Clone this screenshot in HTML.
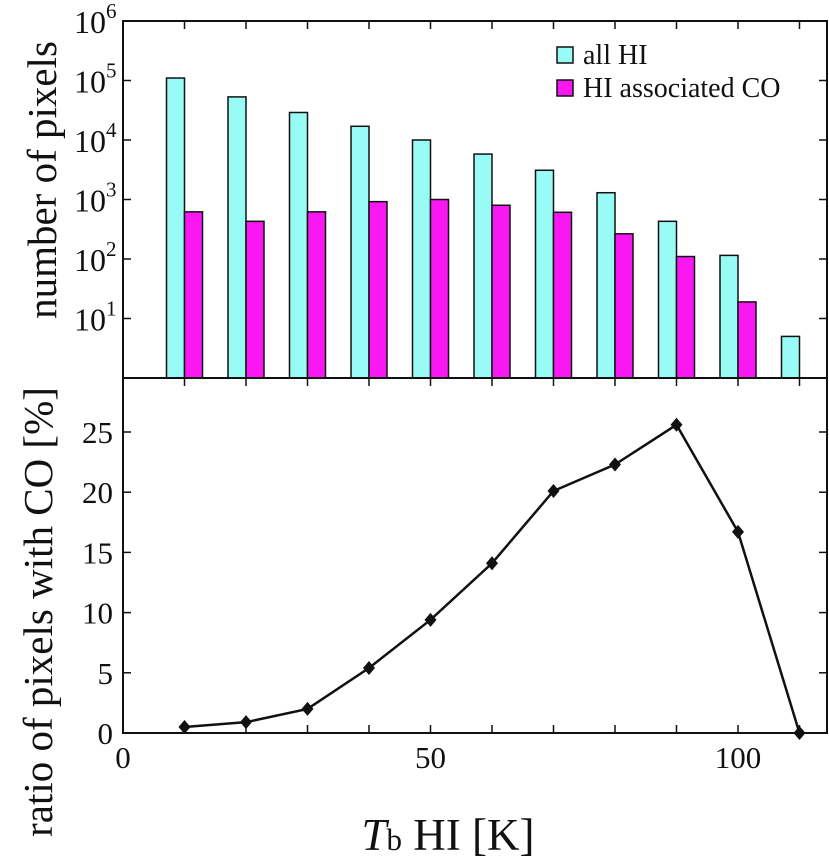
<!DOCTYPE html>
<html><head><meta charset="utf-8"><style>
body{margin:0;background:#fff}
svg text{font-family:"Liberation Serif",serif;fill:#111}
</style></head><body>
<svg id="c" width="829" height="858" xmlns="http://www.w3.org/2000/svg"></svg>
<script>
const categories=[10,20,30,40,50,60,70,80,90,100,110];
const allHI=[110000,53000,29000,17000,10000,5800,3100,1300,430,115,5];
const hiCO=[620,430,620,920,1000,800,610,265,110,19,0];
const ratio=[0.5,0.9,2.0,5.4,9.4,14.1,20.1,22.3,25.6,16.7,0];
const yRatioTicks=[0,5,10,15,20,25];
const xTickLabels=[0,50,100];
const logTicks=[1,2,3,4,5,6];

const NS="http://www.w3.org/2000/svg";
const svg=document.getElementById('c');
const L=123,R=827,T=21,M=378,B=733;
const xs=v=>L+v*6.15;
const yLog=v=>M-Math.log10(v)*59.5;
const yLin=v=>B-v*12.04;
function el(tag,a,p){const e=document.createElementNS(NS,tag);for(const k in a)e.setAttribute(k,a[k]);(p||svg).appendChild(e);return e;}
const bw=18;
categories.forEach((c,i)=>{
  const x=xs(c);
  let r=el('rect',{x:x-bw,y:yLog(allHI[i]),width:bw,height:M-yLog(allHI[i]),fill:'#99fbf5',stroke:'#111','stroke-width':1.5});
  
  
  if(hiCO[i]>1){
    let r2=el('rect',{x:x,y:yLog(hiCO[i]),width:bw,height:M-yLog(hiCO[i]),fill:'#fa18f2',stroke:'#111','stroke-width':1.5});
    
    
  }
});
el('rect',{x:L,y:T,width:R-L,height:B-T,fill:'none',stroke:'#111','stroke-width':2});
el('line',{x1:L,y1:M,x2:R,y2:M,stroke:'#111','stroke-width':2});
for(let v=10;v<=110;v+=10){
  const x=xs(v);
  el('line',{x1:x,y1:T,x2:x,y2:T+8,stroke:'#111','stroke-width':1.5});
  el('line',{x1:x,y1:M,x2:x,y2:M+8,stroke:'#111','stroke-width':1.5});
  el('line',{x1:x,y1:B,x2:x,y2:B-8,stroke:'#111','stroke-width':1.5});
}
xTickLabels.forEach(v=>{let t=el('text',{x:xs(v),y:B+35,'font-size':31,'text-anchor':'middle'});t.textContent=v;
});
logTicks.forEach(p=>{
  const y=yLog(Math.pow(10,p));
  el('line',{x1:L,y1:y,x2:L+8,y2:y,stroke:'#111','stroke-width':1.5});
  el('line',{x1:R,y1:y,x2:R-8,y2:y,stroke:'#111','stroke-width':1.5});
  let t=el('text',{x:74,y:y+12,'font-size':32});
  
  t.textContent='10';
  let s=el('tspan',{dy:-15,'font-size':21},t);s.textContent=p;
});
yRatioTicks.forEach(v=>{
  const y=yLin(v);
  el('line',{x1:L,y1:y,x2:L+8,y2:y,stroke:'#111','stroke-width':1.5});
  el('line',{x1:R,y1:y,x2:R-8,y2:y,stroke:'#111','stroke-width':1.5});
  let t=el('text',{x:L-10,y:y+11,'font-size':31,'text-anchor':'end'});t.textContent=v;
  
});
const pts=categories.map((c,i)=>xs(c)+','+yLin(ratio[i])).join(' ');
let pl=el('polyline',{points:pts,fill:'none',stroke:'#111','stroke-width':2.5});

categories.forEach((c,i)=>{const x=xs(c),y=yLin(ratio[i]);
  let d=el('polygon',{points:`${x},${y-7} ${x+6},${y} ${x},${y+7} ${x-6},${y}`,fill:'#111'});
  });
</script>
<svg width="829" height="858" style="position:absolute;left:0;top:0">
<g>
<rect x="557" y="47" width="16" height="16" fill="#99fbf5" stroke="#111" stroke-width="1.5"/>
<text x="583" y="64" font-size="28">all HI</text>
<rect x="557" y="80" width="16" height="16" fill="#fa18f2" stroke="#111" stroke-width="1.5"/>
<text x="583" y="97" font-size="28">HI associated CO</text>
</g>
<text transform="translate(56,180) rotate(-90)" font-size="41" text-anchor="middle">number of pixels</text>
<text transform="translate(52,612) rotate(-90)" font-size="41" text-anchor="middle">ratio of pixels with CO [%]</text>
<text x="448" y="850" font-size="45" text-anchor="middle"><tspan font-style="italic">T</tspan><tspan font-size="31">b</tspan> HI [K]</text>
</svg>
</body></html>
